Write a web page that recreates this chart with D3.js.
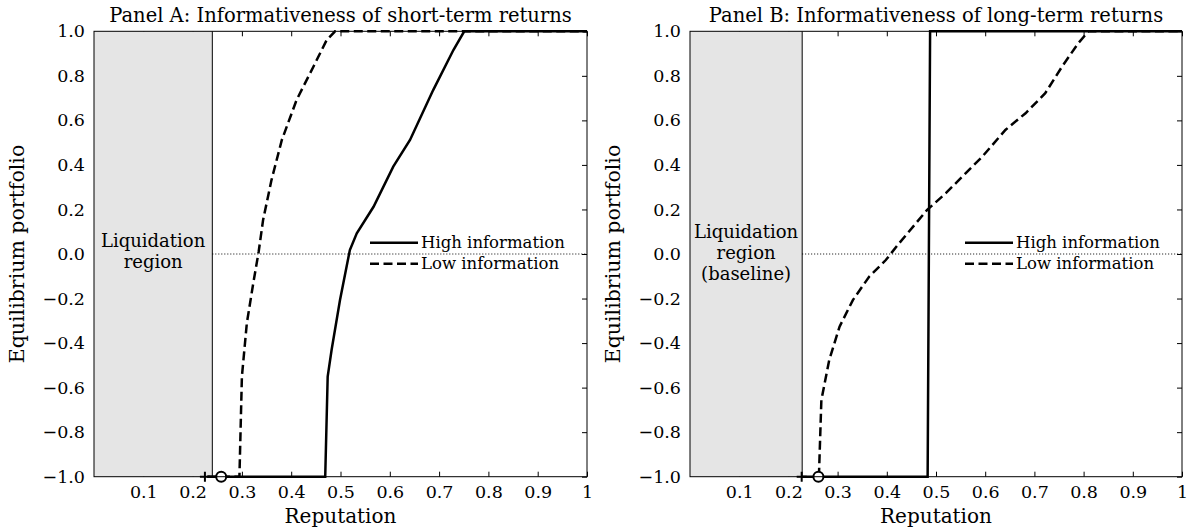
<!DOCTYPE html>
<html>
<head>
<meta charset="utf-8">
<script src="https://cdn.jsdelivr.net/npm/d3@7"></script>
<style>
  body { margin: 0; background: #fff; }
  svg text { font-family: "DejaVu Serif", "Liberation Serif", serif; fill: #000; }
</style>
</head>
<body>
<svg id="chart" width="1188" height="531"></svg>
<script>
// Panel A: short-term returns
let repA_high = [0.23, 0.467, 0.469, 0.474, 0.482, 0.499, 0.519, 0.533, 0.567, 0.607, 0.641, 0.688, 0.729, 0.751, 1.0]
let portA_high = [-1, -1, -1, -0.55, -0.43, -0.207, 0.018, 0.093, 0.212, 0.392, 0.512, 0.736, 0.916, 1.0, 1.0]
let repA_low = [0.23, 0.295, 0.3, 0.31, 0.323, 0.334, 0.343, 0.36, 0.381, 0.411, 0.445, 0.472, 0.489, 1.0]
let portA_low = [-1, -1, -0.55, -0.311, -0.132, 0.01, 0.153, 0.332, 0.512, 0.692, 0.841, 0.961, 1.0, 1.0]

// Panel B: long-term returns
let repB_high = [0.227, 0.483, 0.488, 1.0]
let portB_high = [-1, -1, 1, 1]
let repB_low = [0.262, 0.267, 0.283, 0.304, 0.331, 0.364, 0.398, 0.425, 0.482, 0.52, 0.56, 0.594, 0.641, 0.682, 0.722, 0.756, 0.789, 0.81, 1.0]
let portB_low = [-1, -0.656, -0.476, -0.326, -0.207, -0.102, -0.027, 0.048, 0.198, 0.273, 0.362, 0.437, 0.557, 0.632, 0.722, 0.841, 0.946, 1.0, 1.0]

// liquidation boundary and the two markers on the -1 line
let liqA = 0.24
let liqB = 0.228
let plusA = 0.225, circA = 0.258
let plusB = 0.227, circB = 0.261

let xTicks = [0.1, 0.2, 0.3, 0.4, 0.5, 0.6, 0.7, 0.8, 0.9, 1.0]
let yTicks = [-1.0, -0.8, -0.6, -0.4, -0.2, 0.0, 0.2, 0.4, 0.6, 0.8, 1.0]
let legendLabels = ['High information', 'Low information']

let svg = d3.select('#chart')
let plotTop = 31.3, plotBottom = 476.7

let drawPanel = (left, right, title, liq, liqText, high, low, plusX, circX) => {
    let x = d3.scaleLinear().domain([0, 1]).range([left, right])
    let y = d3.scaleLinear().domain([-1, 1]).range([plotBottom, plotTop])
    let g = svg.append('g')

    // inward ticks
    g.append('g').attr('transform', `translate(0,${plotBottom})`)
        .call(d3.axisBottom(x).tickValues(xTicks).tickSize(-5).tickPadding(9)
            .tickFormat(d => d === 1 ? '1' : d3.format('.1f')(d)))
    g.append('g').attr('transform', `translate(0,${plotTop})`)
        .call(d3.axisTop(x).tickValues(xTicks).tickSize(-5).tickFormat(''))
    g.append('g').attr('transform', `translate(${right},0)`)
        .call(d3.axisRight(y).tickValues(yTicks).tickSize(-5).tickFormat(''))
    g.append('g').attr('transform', `translate(${left},0)`)
        .call(d3.axisLeft(y).tickValues(yTicks).tickSize(0).tickPadding(9).tickFormat(d3.format('.1f')))
    g.selectAll('.domain').remove()
    g.selectAll('.tick text').style('font-size', '17.5px').attr('fill', '#000')
    g.selectAll('.tick line').attr('stroke', '#000')

    // liquidation region
    g.append('rect')
        .attr('x', x(0)).attr('y', plotTop)
        .attr('width', x(liq) - x(0)).attr('height', plotBottom - plotTop)
        .attr('fill', '#e5e5e5')
    g.append('line')
        .attr('x1', x(liq)).attr('x2', x(liq)).attr('y1', plotTop).attr('y2', plotBottom)
        .attr('stroke', '#000').attr('stroke-width', 1)
    let lt = g.append('text')
        .attr('x', (x(0) + x(liq)) / 2)
        .attr('y', liqText.length === 2 ? 247 : 238)
        .attr('text-anchor', 'middle')
        .style('font-size', '18px')
    liqText.forEach((t, i) => {
        lt.append('tspan').attr('x', (x(0) + x(liq)) / 2).attr('dy', i === 0 ? 0 : 21).text(t)
    })

    // zero line
    g.append('line')
        .attr('x1', x(liq)).attr('x2', right).attr('y1', y(0)).attr('y2', y(0))
        .attr('stroke', '#000').attr('stroke-width', 1).attr('stroke-dasharray', '1,2')

    let line = d3.line().x(d => x(d[0])).y(d => y(d[1]))
    g.append('path')
        .attr('d', line(d3.zip(high[0], high[1])))
        .attr('fill', 'none').attr('stroke', '#000').attr('stroke-width', 2.5)
    g.append('path')
        .attr('d', line(d3.zip(low[0], low[1])))
        .attr('fill', 'none').attr('stroke', '#000').attr('stroke-width', 2.5)
        .attr('stroke-dasharray', '9,4.5')

    // markers
    g.append('path')
        .attr('d', `M${x(plusX) - 5},${y(-1)}h10M${x(plusX)},${y(-1) - 5}v10`)
        .attr('stroke', '#000').attr('stroke-width', 2)
    g.append('circle')
        .attr('cx', x(circX)).attr('cy', y(-1)).attr('r', 5)
        .attr('fill', '#fff').attr('stroke', '#000').attr('stroke-width', 2)

    // frame
    g.append('rect')
        .attr('x', left).attr('y', plotTop).attr('width', right - left).attr('height', plotBottom - plotTop)
        .attr('fill', 'none').attr('stroke', '#000').attr('stroke-width', 1)

    // legend
    let lx = right - 217
    legendLabels.forEach((lab, i) => {
        let ly = 242.7 + i * 21
        g.append('line')
            .attr('x1', lx).attr('x2', lx + 48).attr('y1', ly).attr('y2', ly)
            .attr('stroke', '#000').attr('stroke-width', 2.5)
            .attr('stroke-dasharray', i === 1 ? '9,4.5' : null)
        g.append('text')
            .attr('x', lx + 51).attr('y', ly + 5)
            .style('font-size', '16.5px')
            .text(lab)
    })

    // titles
    g.append('text')
        .attr('x', (left + right) / 2).attr('y', 22)
        .attr('text-anchor', 'middle').style('font-size', '19.5px')
        .text(title)
    g.append('text')
        .attr('x', (left + right) / 2).attr('y', 523)
        .attr('text-anchor', 'middle').style('font-size', '20px')
        .text('Reputation')
    g.append('text')
        .attr('transform', `translate(${left - 70},${(plotTop + plotBottom) / 2}) rotate(-90)`)
        .attr('text-anchor', 'middle').style('font-size', '20.5px')
        .text('Equilibrium portfolio')
}

drawPanel(94, 587, 'Panel A: Informativeness of short-term returns', liqA, ['Liquidation', 'region'],
    [repA_high, portA_high], [repA_low, portA_low], plusA, circA)
drawPanel(690, 1182, 'Panel B: Informativeness of long-term returns', liqB, ['Liquidation', 'region', '(baseline)'],
    [repB_high, portB_high], [repB_low, portB_low], plusB, circB)
</script>
</body>
</html>
